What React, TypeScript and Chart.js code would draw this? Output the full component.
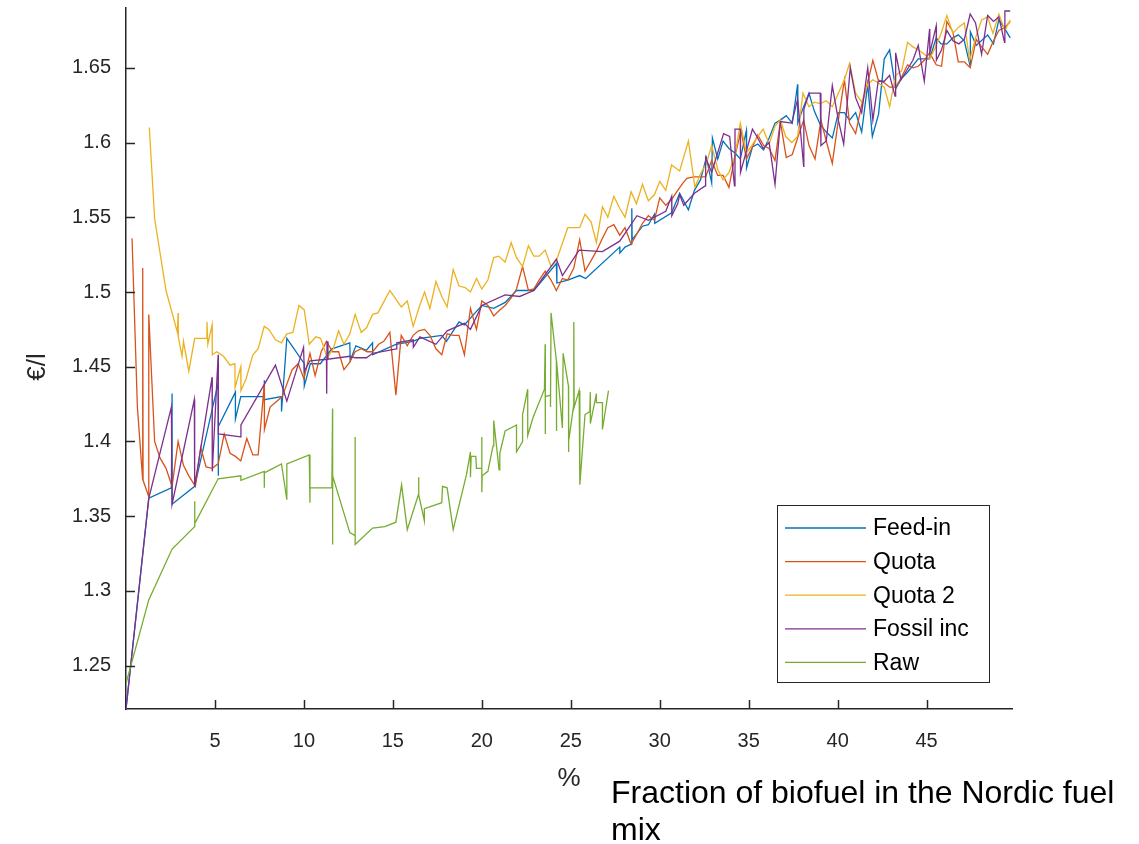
import React, { useEffect, useRef } from "react";
import { Chart, registerables } from "chart.js";

Chart.register(...registerables);

// ---- axis configuration ----
const xTicks = [5, 10, 15, 20, 25, 30, 35, 40, 45];
const yTicks = [1.25, 1.3, 1.35, 1.4, 1.45, 1.5, 1.55, 1.6, 1.65];
const xRange = [0, 49.8];
const yRange = [1.221, 1.69];

const seriesNames = ["Feed-in", "Quota", "Quota 2", "Fossil inc", "Raw"];
const seriesColors = ["#0072BD", "#D95319", "#EDB120", "#7E2F8E", "#77AC30"];

// ---- Feed-in ----
const feedInX = [0, 1.28, 2.55, 2.59, 2.59, 3.86, 5.18, 5.18, 5.2, 6.15, 6.15, 6.45, 7.77, 7.77, 7.78, 8.74, 8.74, 9.04, 10.02, 10.02, 10.36, 10.92, 11.57, 12.58, 12.6, 12.92, 13.52, 13.86, 13.86, 15.17, 16.14, 16.52, 17.75, 18.01, 18.72, 19.02, 20.0, 20.67, 21.31, 21.95, 22.62, 22.92, 24.19, 24.22, 24.83, 25.5, 25.84, 27.75, 27.76, 28.05, 28.39, 28.43, 28.45, 29.03, 29.36, 29.7, 29.72, 30.67, 31.12, 31.61, 31.95, 32.29, 32.62, 32.92, 32.96, 33.26, 33.56, 33.89, 34.23, 34.53, 34.87, 34.88, 35.21, 35.51, 35.84, 36.15, 36.48, 36.78, 37.11, 37.45, 37.75, 37.76, 38.09, 38.39, 38.69, 39.02, 39.36, 39.7, 40.04, 40.38, 40.67, 41.01, 41.35, 41.69, 41.95, 42.3, 42.62, 42.92, 43.26, 43.6, 43.93, 44.53, 45.17, 45.54, 45.81, 46.14, 46.48, 46.78, 47.12, 47.45, 47.46, 47.79, 48.43, 48.76, 49.06, 49.4, 49.7];
const feedInY = [1.221, 1.362, 1.369, 1.432, 1.358, 1.37, 1.439, 1.377, 1.41, 1.433, 1.415, 1.43, 1.43, 1.441, 1.428, 1.43, 1.42, 1.469, 1.452, 1.437, 1.452, 1.452, 1.462, 1.466, 1.454, 1.464, 1.461, 1.466, 1.458, 1.465, 1.467, 1.469, 1.471, 1.467, 1.48, 1.478, 1.491, 1.489, 1.493, 1.501, 1.501, 1.501, 1.519, 1.506, 1.508, 1.511, 1.509, 1.53, 1.526, 1.53, 1.532, 1.556, 1.535, 1.544, 1.545, 1.552, 1.546, 1.553, 1.566, 1.555, 1.568, 1.575, 1.59, 1.573, 1.603, 1.589, 1.601, 1.596, 1.593, 1.589, 1.608, 1.583, 1.597, 1.599, 1.595, 1.603, 1.613, 1.615, 1.618, 1.613, 1.639, 1.613, 1.624, 1.633, 1.621, 1.612, 1.607, 1.603, 1.62, 1.62, 1.615, 1.62, 1.607, 1.639, 1.604, 1.619, 1.656, 1.662, 1.636, 1.643, 1.647, 1.656, 1.656, 1.67, 1.666, 1.666, 1.67, 1.672, 1.668, 1.651, 1.674, 1.665, 1.672, 1.666, 1.682, 1.676, 1.67];

// ---- Quota ----
const quotaX = [0.34, 0.64, 0.94, 0.94, 0.96, 1.28, 1.28, 1.61, 1.91, 2.25, 2.59, 2.93, 3.23, 3.53, 3.9, 4.2, 4.5, 4.84, 5.18, 5.52, 5.85, 6.15, 6.45, 6.79, 7.13, 7.43, 7.77, 7.78, 8.1, 8.78, 9.34, 9.68, 10.0, 10.34, 10.63, 10.97, 11.27, 11.61, 11.95, 12.25, 12.58, 12.88, 13.22, 13.56, 13.86, 14.2, 14.49, 14.83, 15.17, 15.47, 15.81, 16.14, 16.44, 16.78, 17.08, 17.42, 17.75, 18.05, 18.39, 18.72, 19.02, 19.36, 19.7, 20.0, 20.34, 20.67, 21.01, 21.31, 21.65, 21.95, 22.29, 22.62, 22.92, 23.22, 23.56, 23.89, 24.19, 24.53, 24.83, 25.17, 25.5, 25.8, 26.14, 26.47, 26.78, 27.08, 27.42, 27.75, 28.05, 28.39, 28.72, 29.03, 29.36, 29.7, 30.0, 30.34, 30.67, 31.01, 31.31, 31.53, 31.91, 32.25, 32.58, 32.92, 33.26, 33.56, 33.89, 34.23, 34.57, 34.87, 35.21, 35.51, 35.84, 36.15, 36.48, 36.78, 37.11, 37.45, 37.75, 38.09, 38.39, 38.73, 39.06, 39.36, 39.7, 40.04, 40.38, 40.67, 41.01, 41.35, 41.69, 41.98, 42.28, 42.62, 42.92, 43.26, 43.6, 43.93, 44.23, 44.53, 44.87, 45.17, 45.54, 45.84, 46.14, 46.48, 46.78, 47.12, 47.45, 47.79, 48.09, 48.43, 48.76, 49.06, 49.4, 49.7];
const quotaY = [1.536, 1.423, 1.374, 1.516, 1.374, 1.363, 1.485, 1.4, 1.389, 1.382, 1.37, 1.4, 1.384, 1.377, 1.37, 1.396, 1.383, 1.382, 1.385, 1.405, 1.392, 1.39, 1.387, 1.402, 1.391, 1.391, 1.438, 1.408, 1.423, 1.43, 1.448, 1.452, 1.442, 1.459, 1.444, 1.46, 1.467, 1.46, 1.46, 1.448, 1.453, 1.46, 1.462, 1.46, 1.46, 1.465, 1.467, 1.473, 1.431, 1.471, 1.464, 1.471, 1.474, 1.475, 1.471, 1.462, 1.458, 1.472, 1.471, 1.471, 1.458, 1.489, 1.475, 1.494, 1.491, 1.484, 1.488, 1.491, 1.496, 1.502, 1.517, 1.501, 1.502, 1.508, 1.514, 1.508, 1.501, 1.509, 1.508, 1.516, 1.535, 1.514, 1.521, 1.528, 1.536, 1.543, 1.545, 1.538, 1.543, 1.532, 1.539, 1.546, 1.551, 1.548, 1.563, 1.558, 1.562, 1.568, 1.573, 1.576, 1.577, 1.577, 1.577, 1.588, 1.578, 1.578, 1.57, 1.591, 1.608, 1.589, 1.597, 1.605, 1.598, 1.596, 1.588, 1.614, 1.59, 1.592, 1.603, 1.615, 1.598, 1.589, 1.615, 1.601, 1.586, 1.615, 1.642, 1.613, 1.606, 1.625, 1.64, 1.655, 1.642, 1.64, 1.637, 1.637, 1.644, 1.652, 1.65, 1.651, 1.655, 1.66, 1.652, 1.651, 1.681, 1.674, 1.654, 1.654, 1.65, 1.669, 1.664, 1.659, 1.668, 1.675, 1.677, 1.681];

// ---- Quota 2 ----
const quota2X = [1.31, 1.61, 2.25, 2.89, 2.93, 2.94, 3.15, 3.23, 3.53, 3.86, 4.5, 4.55, 4.6, 4.84, 4.85, 5.1, 5.48, 5.85, 6.12, 6.13, 6.45, 6.46, 6.75, 7.13, 7.43, 7.77, 8.03, 8.4, 8.74, 9.04, 9.38, 9.72, 10.02, 10.3, 10.67, 10.94, 11.31, 11.65, 11.95, 12.25, 12.58, 12.88, 13.22, 13.52, 13.86, 14.16, 14.83, 15.47, 15.81, 16.14, 16.48, 16.78, 17.08, 17.42, 17.75, 18.05, 18.39, 18.72, 19.06, 19.36, 19.7, 20.0, 20.34, 20.67, 20.94, 21.31, 21.65, 21.95, 22.29, 22.62, 22.92, 23.22, 23.56, 23.89, 24.19, 24.83, 25.17, 25.5, 25.8, 26.14, 26.44, 26.78, 27.08, 27.42, 27.75, 28.05, 28.39, 28.69, 29.03, 29.36, 29.7, 30.0, 30.34, 30.67, 31.12, 31.61, 31.98, 32.29, 32.62, 32.92, 33.26, 33.56, 33.89, 34.23, 34.53, 34.87, 35.17, 35.51, 35.81, 36.15, 36.48, 36.78, 37.08, 37.42, 37.75, 38.05, 38.39, 38.69, 39.02, 39.36, 39.7, 40.04, 40.38, 40.67, 41.01, 41.35, 41.69, 41.98, 42.28, 42.62, 42.92, 43.26, 43.6, 43.93, 44.23, 44.53, 44.87, 45.17, 45.51, 45.81, 46.14, 46.48, 46.78, 47.12, 47.42, 47.75, 48.09, 48.43, 48.73, 49.06, 49.4, 49.7];
const quota2Y = [1.61, 1.549, 1.501, 1.473, 1.486, 1.47, 1.457, 1.467, 1.447, 1.469, 1.469, 1.48, 1.465, 1.478, 1.458, 1.46, 1.457, 1.451, 1.452, 1.436, 1.45, 1.434, 1.442, 1.458, 1.462, 1.477, 1.475, 1.468, 1.466, 1.472, 1.473, 1.491, 1.488, 1.465, 1.47, 1.469, 1.456, 1.462, 1.474, 1.465, 1.472, 1.485, 1.473, 1.476, 1.485, 1.486, 1.501, 1.49, 1.494, 1.477, 1.49, 1.5, 1.489, 1.507, 1.497, 1.49, 1.515, 1.504, 1.503, 1.5, 1.509, 1.502, 1.508, 1.523, 1.524, 1.52, 1.533, 1.523, 1.517, 1.531, 1.524, 1.524, 1.528, 1.517, 1.521, 1.543, 1.543, 1.543, 1.552, 1.547, 1.533, 1.557, 1.55, 1.564, 1.556, 1.55, 1.567, 1.559, 1.572, 1.561, 1.565, 1.574, 1.568, 1.585, 1.581, 1.601, 1.57, 1.579, 1.586, 1.598, 1.582, 1.575, 1.58, 1.591, 1.613, 1.593, 1.598, 1.604, 1.609, 1.599, 1.611, 1.615, 1.604, 1.6, 1.604, 1.633, 1.624, 1.627, 1.626, 1.628, 1.624, 1.633, 1.642, 1.653, 1.633, 1.627, 1.639, 1.642, 1.64, 1.637, 1.624, 1.645, 1.648, 1.667, 1.664, 1.662, 1.659, 1.656, 1.664, 1.673, 1.685, 1.673, 1.677, 1.68, 1.655, 1.67, 1.682, 1.684, 1.673, 1.686, 1.675, 1.682];

// ---- Fossil inc ----
const fossilX = [0, 1.28, 2.55, 2.59, 3.84, 3.86, 4.84, 4.85, 5.18, 5.19, 6.45, 6.46, 8.4, 9.04, 9.98, 10.02, 10.34, 11.27, 11.28, 11.3, 11.35, 12.58, 12.88, 13.52, 13.86, 15.21, 15.22, 16.14, 16.15, 16.52, 17.42, 18.05, 19.02, 19.36, 20.0, 21.31, 22.13, 22.92, 24.19, 24.53, 25.47, 26.78, 27.75, 28.72, 29.36, 30.34, 30.67, 30.68, 31.01, 31.12, 31.35, 31.95, 32.55, 32.58, 32.92, 33.59, 33.93, 34.2, 34.23, 34.53, 34.54, 35.21, 35.51, 35.81, 36.15, 36.48, 36.78, 37.42, 37.75, 38.09, 38.1, 38.39, 39.02, 39.06, 39.36, 39.7, 40.04, 40.34, 40.71, 41.01, 41.35, 41.69, 41.98, 42.28, 42.62, 42.92, 43.23, 43.26, 43.56, 44.23, 44.53, 44.87, 45.17, 45.18, 45.54, 45.55, 45.84, 46.14, 46.48, 46.81, 47.12, 47.45, 47.75, 48.09, 48.43, 48.76, 49.06, 49.38, 49.4, 49.7];
const fossilY = [1.221, 1.362, 1.423, 1.358, 1.428, 1.37, 1.443, 1.38, 1.458, 1.405, 1.403, 1.411, 1.451, 1.427, 1.463, 1.447, 1.454, 1.455, 1.432, 1.467, 1.455, 1.457, 1.456, 1.456, 1.459, 1.462, 1.466, 1.468, 1.463, 1.47, 1.465, 1.474, 1.479, 1.475, 1.491, 1.498, 1.497, 1.501, 1.522, 1.511, 1.528, 1.527, 1.534, 1.551, 1.548, 1.554, 1.564, 1.551, 1.559, 1.565, 1.558, 1.566, 1.571, 1.59, 1.58, 1.606, 1.604, 1.571, 1.609, 1.609, 1.58, 1.609, 1.603, 1.596, 1.6, 1.572, 1.614, 1.613, 1.629, 1.584, 1.622, 1.633, 1.633, 1.598, 1.601, 1.638, 1.615, 1.599, 1.65, 1.63, 1.62, 1.65, 1.615, 1.641, 1.641, 1.645, 1.631, 1.66, 1.642, 1.655, 1.665, 1.641, 1.676, 1.66, 1.678, 1.655, 1.662, 1.675, 1.668, 1.666, 1.669, 1.686, 1.68, 1.659, 1.685, 1.681, 1.684, 1.667, 1.688, 1.688];

// ---- Raw ----
const rawX = [0, 1.28, 2.59, 3.86, 3.86, 3.87, 5.18, 6.45, 6.46, 7.77, 7.77, 7.78, 8.74, 9.04, 9.04, 10.3, 10.34, 10.34, 11.57, 11.61, 11.61, 11.62, 12.58, 12.88, 12.88, 12.88, 13.86, 14.55, 15.17, 15.49, 15.81, 16.45, 16.45, 16.46, 16.77, 16.77, 17.75, 17.79, 18.05, 18.39, 19.14, 19.36, 19.36, 19.4, 19.66, 19.7, 20.0, 20.0, 20.0, 20.02, 20.34, 20.63, 20.67, 20.97, 21.01, 21.31, 21.95, 21.95, 22.29, 22.29, 22.58, 22.58, 22.88, 23.52, 23.56, 23.56, 23.58, 23.86, 23.86, 23.89, 24.19, 24.19, 24.21, 24.53, 24.57, 24.87, 24.87, 24.89, 25.17, 25.17, 25.19, 25.47, 25.51, 25.8, 26.07, 26.1, 26.1, 26.44, 26.44, 26.78, 26.78, 27.12];
const rawY = [1.238, 1.294, 1.328, 1.343, 1.36, 1.345, 1.375, 1.377, 1.374, 1.38, 1.369, 1.379, 1.385, 1.361, 1.385, 1.391, 1.359, 1.369, 1.369, 1.422, 1.331, 1.377, 1.339, 1.337, 1.403, 1.331, 1.342, 1.343, 1.346, 1.371, 1.341, 1.365, 1.376, 1.364, 1.347, 1.355, 1.359, 1.37, 1.369, 1.341, 1.378, 1.393, 1.376, 1.39, 1.39, 1.382, 1.382, 1.403, 1.366, 1.377, 1.38, 1.397, 1.414, 1.381, 1.392, 1.407, 1.411, 1.393, 1.4, 1.418, 1.435, 1.404, 1.416, 1.435, 1.465, 1.405, 1.43, 1.431, 1.423, 1.486, 1.454, 1.407, 1.454, 1.409, 1.459, 1.437, 1.393, 1.4, 1.425, 1.48, 1.423, 1.434, 1.371, 1.418, 1.42, 1.433, 1.412, 1.432, 1.426, 1.426, 1.408, 1.434];

const seriesX = [feedInX, quotaX, quota2X, fossilX, rawX];
const seriesY = [feedInY, quotaY, quota2Y, fossilY, rawY];

const xAxisTitle = "%";
const yAxisTitle = "€/l";
const noteLines = ["Fraction of biofuel in the Nordic fuel", "mix"];

const FONT = "'Liberation Sans', Arial, Helvetica, sans-serif";
const AXIS_COLOR = "#262626";

const decorPlugin = {
  id: "decor",
  afterDraw(chart: any) {
    const ctx = chart.ctx as CanvasRenderingContext2D;
    const xs = chart.scales.x;
    const ys = chart.scales.y;
    const area = chart.chartArea;
    ctx.save();
    // inward tick marks
    ctx.strokeStyle = AXIS_COLOR;
    ctx.lineWidth = 1.5;
    const tl = 9;
    xTicks.forEach((v) => {
      const p = Math.round(xs.getPixelForValue(v)) + 0.5;
      ctx.beginPath();
      ctx.moveTo(p, area.bottom);
      ctx.lineTo(p, area.bottom - tl);
      ctx.stroke();
    });
    yTicks.forEach((v) => {
      const p = Math.round(ys.getPixelForValue(v)) + 0.5;
      ctx.beginPath();
      ctx.moveTo(area.left, p);
      ctx.lineTo(area.left + tl, p);
      ctx.stroke();
    });

    // legend
    const lx = 777.5, ly = 505.5, lw = 212, lh = 177;
    ctx.fillStyle = "#ffffff";
    ctx.fillRect(lx, ly, lw, lh);
    ctx.strokeStyle = AXIS_COLOR;
    ctx.lineWidth = 1;
    ctx.strokeRect(lx, ly, lw, lh);
    ctx.font = `23px ${FONT}`;
    ctx.textBaseline = "middle";
    ctx.textAlign = "left";
    seriesNames.forEach((name, i) => {
      const y = 528 + i * 33.6;
      ctx.strokeStyle = seriesColors[i];
      ctx.lineWidth = 1.3;
      ctx.beginPath();
      ctx.moveTo(785, y);
      ctx.lineTo(866, y);
      ctx.stroke();
      ctx.fillStyle = "#000000";
      ctx.fillText(name, 873, y + 1);
    });

    // axis titles
    ctx.fillStyle = AXIS_COLOR;
    ctx.font = `26px ${FONT}`;
    ctx.textAlign = "center";
    ctx.textBaseline = "middle";
    ctx.fillText(xAxisTitle, (area.left + area.right) / 2, 779);
    ctx.save();
    ctx.translate(38, 367);
    ctx.rotate(-Math.PI / 2);
    ctx.fillText(yAxisTitle, 0, 0);
    ctx.restore();

    // note text
    ctx.fillStyle = "#000000";
    ctx.font = `32px ${FONT}`;
    ctx.textAlign = "left";
    ctx.textBaseline = "alphabetic";
    ctx.fillText(noteLines[0], 611, 803);
    ctx.fillText(noteLines[1], 611, 840);
    ctx.restore();
  },
};

export default function App() {
  const canvasRef = useRef<HTMLCanvasElement | null>(null);

  useEffect(() => {
    const canvas = canvasRef.current;
    if (!canvas) return;
    const datasets = seriesNames.map((name, i) => ({
      label: name,
      data: seriesX[i].map((x, j) => ({ x, y: seriesY[i][j] })),
      borderColor: seriesColors[i],
      backgroundColor: seriesColors[i],
      borderWidth: 1.3,
      pointRadius: 0,
      tension: 0,
      fill: false,
      order: seriesNames.length - i,
    }));
    const chart = new Chart(canvas, {
      type: "line",
      data: { datasets },
      plugins: [decorPlugin],
      options: {
        animation: false,
        responsive: false,
        devicePixelRatio: 1,
        layout: { padding: { top: 8, right: 127, left: 0, bottom: 0 } },
        plugins: {
          legend: { display: false },
          tooltip: { enabled: false },
          title: { display: false },
        },
        scales: {
          x: {
            type: "linear",
            position: "bottom",
            min: xRange[0],
            max: xRange[1],
            grid: { display: false, drawTicks: false },
            border: { display: true, color: AXIS_COLOR, width: 1.5 },
            ticks: {
              color: AXIS_COLOR,
              font: { family: FONT, size: 20 },
              padding: 20,
              maxRotation: 0,
              autoSkip: false,
              callback: (v: any) => String(v),
            },
            afterBuildTicks: (scale: any) => {
              scale.ticks = xTicks.map((v) => ({ value: v }));
            },
            afterFit: (scale: any) => {
              scale.height = 135;
              scale.paddingLeft = 0;
              scale.paddingRight = 0;
            },
          },
          y: {
            type: "linear",
            position: "left",
            min: yRange[0],
            max: yRange[1],
            grid: { display: false, drawTicks: false },
            border: { display: true, color: AXIS_COLOR, width: 1.5 },
            ticks: {
              color: AXIS_COLOR,
              font: { family: FONT, size: 20 },
              padding: 15,
              autoSkip: false,
              callback: (v: any) => String(Math.round(Number(v) * 100) / 100),
            },
            afterBuildTicks: (scale: any) => {
              scale.ticks = yTicks.map((v) => ({ value: v }));
            },
            afterFit: (scale: any) => {
              scale.width = 126;
              scale.paddingTop = 0;
              scale.paddingBottom = 0;
            },
          },
        },
      } as any,
    });
    return () => chart.destroy();
  }, []);

  return (
    <div style={{ position: "absolute", left: 0, top: 0, width: 1139, height: 844, background: "#ffffff" }}>
      <canvas ref={canvasRef} width={1139} height={844} style={{ display: "block" }} />
    </div>
  );
}
